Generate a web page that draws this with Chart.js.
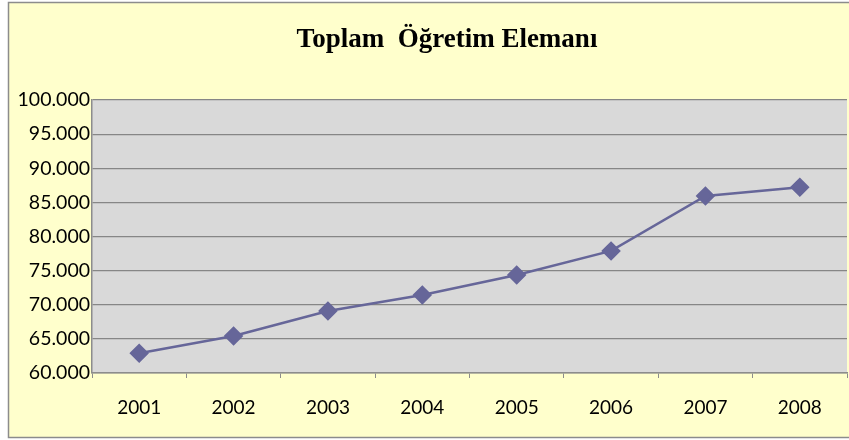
<!DOCTYPE html>
<html>
<head>
<meta charset="utf-8">
<script src="https://cdn.jsdelivr.net/npm/chart.js@4.4.1/dist/chart.umd.min.js"></script>
<style>
  html, body { margin: 0; padding: 0; background: #fff; }
  #wrap { width: 849px; height: 440px; }
</style>
</head>
<body>
<div id="wrap"><canvas id="myChart" width="849" height="440"></canvas></div>
<script>
// data
const years = ['2001', '2002', '2003', '2004', '2005', '2006', '2007', '2008'];
const staff = [62900, 65430, 69090, 71440, 74370, 77890, 85940, 87220];
const chartTitle = 'Toplam  Öğretim Elemanı';

// thousands with a dot, like the Turkish Excel original
function fmt(v) {
  return String(v).replace(/\B(?=(\d{3})+(?!\d))/g, '.');
}

// frame, yellow background, grey plot area and title
const backdrop = {
  id: 'backdrop',
  beforeDraw(chart) {
    const ctx = chart.ctx;
    const a = chart.chartArea;
    ctx.save();
    ctx.fillStyle = '#ffffff';
    ctx.fillRect(0, 0, chart.width, chart.height);
    ctx.fillStyle = '#ffffcc';
    ctx.fillRect(8, 2, chart.width - 8, 436);
    ctx.strokeStyle = '#8c8c8c';
    ctx.lineWidth = 1.5;
    ctx.strokeRect(8.5, 2.5, chart.width + 5, 435);
    ctx.fillStyle = '#d9d9d9';
    ctx.fillRect(a.left, a.top, a.right - a.left, a.bottom - a.top);
    ctx.fillStyle = '#000';
    ctx.font = 'bold 27px "Liberation Serif", "Times New Roman", serif';
    ctx.textAlign = 'center';
    ctx.textBaseline = 'middle';
    ctx.fillText(chartTitle, 447, 40);
    ctx.restore();
  }
};

const data = {
  labels: years,
  datasets: [{
    label: chartTitle,
    data: staff,
    borderColor: '#666699',
    backgroundColor: '#666699',
    borderWidth: 2.5,
    pointStyle: 'rectRot',
    pointRadius: 8,
    pointHoverRadius: 8,
    pointBackgroundColor: '#666699',
    pointBorderColor: '#666699',
    tension: 0
  }]
};

const config = {
  type: 'line',
  data,
  options: {
    responsive: false,
    animation: false,
    layout: {
      autoPadding: false,
      padding: { top: 100, left: 10, right: 2, bottom: 0 }
    },
    plugins: {
      legend: { display: false },
      title: { display: false },
      tooltip: { enabled: false }
    },
    scales: {
      x: {
        offset: true,
        grid: {
          offset: true,
          drawOnChartArea: false,
          drawTicks: true,
          tickLength: 5,
          color: '#8c8c8c'
        },
        border: { color: '#8c8c8c', width: 1.5 },
        ticks: {
          color: '#000',
          padding: 18,
          maxRotation: 0,
          font: { family: 'Lato', size: 19 }
        },
        afterFit(scale) {
          scale.height = 67;
          scale.paddingLeft = 0;
          scale.paddingRight = 0;
        }
      },
      y: {
        min: 60000,
        max: 100000,
        grid: {
          color: '#868686',
          lineWidth: 1.2,
          drawTicks: false
        },
        border: { color: '#8c8c8c', width: 1.5 },
        ticks: {
          stepSize: 5000,
          color: '#000',
          padding: 2,
          font: { family: 'Lato', size: 19.5 },
          callback: (v) => fmt(v)
        },
        afterFit(scale) { scale.width = 82; }
      }
    }
  },
  plugins: [backdrop]
};

const myChart = new Chart(document.getElementById('myChart'), config);
</script>
</body>
</html>
